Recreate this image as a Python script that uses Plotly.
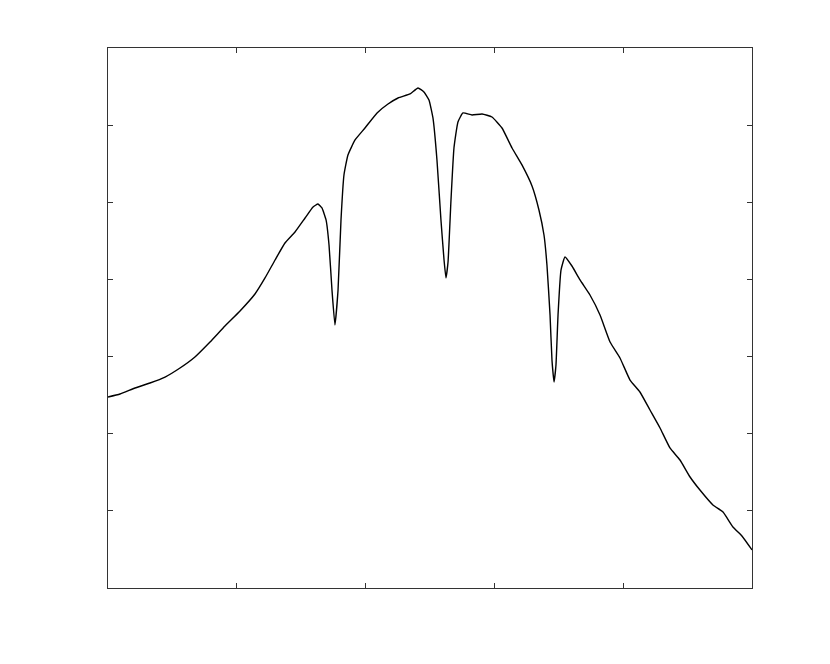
import plotly.graph_objects as go

# spectrum trace (arbitrary units, no tick labels)
x_vals = [0.000, 0.093, 0.210, 0.326, 0.443, 0.559, 0.675, 0.792, 0.908, 1.025,
          1.141, 1.219, 1.297, 1.374, 1.452, 1.530, 1.592, 1.630, 1.661, 1.693,
          1.716, 1.739, 1.762, 1.786, 1.809, 1.832, 1.863, 1.918, 1.995, 2.089,
          2.174, 2.252, 2.345, 2.407, 2.453, 2.492, 2.523, 2.554, 2.585, 2.609,
          2.624, 2.640, 2.663, 2.686, 2.717, 2.756, 2.826, 2.904, 2.981, 3.059,
          3.137, 3.214, 3.292, 3.346, 3.385, 3.408, 3.432, 3.447, 3.463, 3.478,
          3.494, 3.517, 3.548, 3.602, 3.665, 3.742, 3.820, 3.898, 3.975, 4.053,
          4.130, 4.208, 4.286, 4.363, 4.441, 4.519, 4.596, 4.697, 4.775, 4.852,
          4.922, 5.000]
y_vals = [2.476, 2.515, 2.593, 2.657, 2.735, 2.852, 2.995, 3.189, 3.396, 3.591,
          3.811, 4.019, 4.252, 4.472, 4.615, 4.796, 4.939, 4.978, 4.926, 4.771,
          4.446, 3.863, 3.409, 3.863, 4.771, 5.354, 5.613, 5.808, 5.963, 6.158,
          6.274, 6.352, 6.404, 6.482, 6.430, 6.326, 6.093, 5.548, 4.771, 4.252,
          4.019, 4.226, 5.030, 5.704, 6.041, 6.158, 6.132, 6.145, 6.106, 5.963,
          5.704, 5.484, 5.211, 4.900, 4.576, 4.187, 3.539, 2.956, 2.670, 2.891,
          3.539, 4.122, 4.291, 4.174, 3.993, 3.798, 3.539, 3.189, 2.982, 2.696,
          2.541, 2.307, 2.074, 1.815, 1.659, 1.439, 1.270, 1.076, 0.985, 0.791,
          0.674, 0.493]

fig = go.Figure()
fig.add_trace(go.Scatter(x=x_vals, y=y_vals, mode="lines",
                         line=dict(color="black", width=1.4, shape="spline", smoothing=0.4)))

axis_style = dict(showline=True, linecolor="#333333", linewidth=1, mirror="ticks",
                  ticks="inside", ticklen=5, tickcolor="#333333", tickwidth=1,
                  showticklabels=False, showgrid=False, zeroline=False)
fig.update_xaxes(range=[0, 5], dtick=1, **axis_style)
fig.update_yaxes(range=[0, 7], dtick=1, **axis_style)

# page body adds an 8px offset, so margins are shifted to match the frame
fig.update_layout(width=830, height=664, showlegend=False,
                  margin=dict(l=100, r=86, t=40, b=84),
                  plot_bgcolor="white", paper_bgcolor="white")
fig.write_html("out.html")
